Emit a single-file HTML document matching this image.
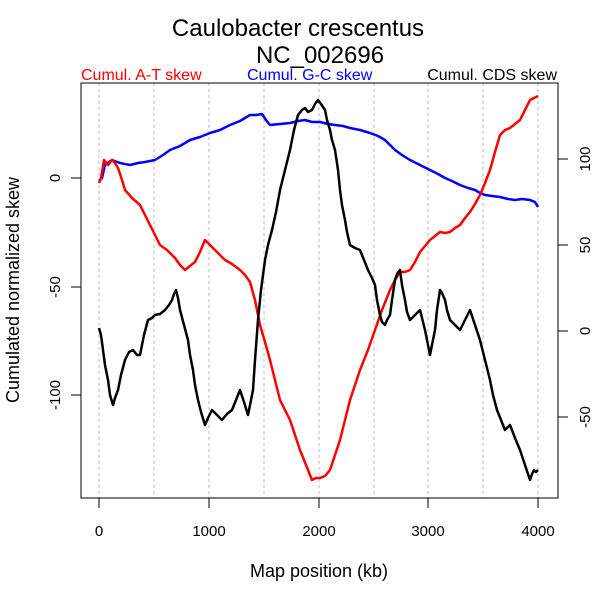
<!DOCTYPE html>
<html><head><style>body{margin:0;background:#fff}svg{display:block}</style></head><body>
<svg width="600" height="600" xmlns="http://www.w3.org/2000/svg" font-family="Liberation Sans, sans-serif">
<rect width="600" height="600" fill="#fff"/>
<text x="298" y="36" font-size="24" text-anchor="middle">Caulobacter crescentus</text>
<text x="320" y="63" font-size="24" text-anchor="middle">NC_002696</text>
<text x="81" y="80" font-size="16" fill="#f00">Cumul. A-T skew</text>
<text x="247" y="80" font-size="16" fill="#00f">Cumul. G-C skew</text>
<text x="557" y="80" font-size="16" text-anchor="end">Cumul. CDS skew</text>
<g stroke="#bbb" stroke-dasharray="3,3" stroke-width="1">
<line x1="99" y1="83" x2="99" y2="498"/><line x1="154" y1="83" x2="154" y2="498"/><line x1="209" y1="83" x2="209" y2="498"/><line x1="264" y1="83" x2="264" y2="498"/><line x1="319" y1="83" x2="319" y2="498"/><line x1="374" y1="83" x2="374" y2="498"/><line x1="428" y1="83" x2="428" y2="498"/><line x1="483" y1="83" x2="483" y2="498"/><line x1="538" y1="83" x2="538" y2="498"/>
</g>
<rect x="81" y="83" width="477" height="415" fill="none" stroke="#000"/>
<g stroke="#000">
<line x1="99" y1="498" x2="99" y2="508"/><line x1="209" y1="498" x2="209" y2="508"/><line x1="319" y1="498" x2="319" y2="508"/><line x1="428" y1="498" x2="428" y2="508"/><line x1="538" y1="498" x2="538" y2="508"/>
<line x1="71" y1="178" x2="81" y2="178"/><line x1="71" y1="287" x2="81" y2="287"/><line x1="71" y1="395" x2="81" y2="395"/>
<line x1="558" y1="159" x2="568" y2="159"/><line x1="558" y1="245" x2="568" y2="245"/><line x1="558" y1="331" x2="568" y2="331"/><line x1="558" y1="417" x2="568" y2="417"/>
</g>
<g font-size="15" text-anchor="middle">
<text x="99" y="536">0</text><text x="209" y="536">1000</text><text x="319" y="536">2000</text><text x="428" y="536">3000</text><text x="538" y="536">4000</text>
<text transform="translate(60,178) rotate(-90)">0</text>
<text transform="translate(60,287) rotate(-90)">-50</text>
<text transform="translate(60,395) rotate(-90)">-100</text>
<text transform="translate(590,159) rotate(-90)">100</text>
<text transform="translate(590,245) rotate(-90)">50</text>
<text transform="translate(590,331) rotate(-90)">0</text>
<text transform="translate(590,417) rotate(-90)">-50</text>
</g>
<text x="319" y="577" font-size="18" text-anchor="middle">Map position (kb)</text>
<text transform="translate(19,290) rotate(-90)" font-size="18" text-anchor="middle">Cumulated normalized skew</text>
<g fill="none" stroke-width="2.5" stroke-linejoin="round">
<polyline stroke="#00f" points="99,181 102,178 105,165 109,162 112,160 120,163 130,165 138,163 145,162 155,160 163,155 170,150 180,146 190,140 200,137 210,133 220,130 230,125 240,121 250,115 256,115 262,114 266,120 270,125 280,124 290,123 298,121 305,120 312,122 320,122 328,124 335,125 343,126 350,128 360,130 370,133 378,136 385,140 390,145 395,150 402,155 410,160 420,165 430,170 438,174 445,178 452,181 460,185 468,188 475,190 480,193 485,195 492,196 500,197 508,199 515,200 522,199 530,200 535,202 538,207"/>
<polyline stroke="#f00" points="99,183 101,178 104,160 108,165 112,160 115,163 118,168 122,180 125,190 132,198 140,205 145,215 150,225 155,235 160,245 167,250 175,258 180,265 185,270 190,266 195,262 200,252 205,240 210,245 215,250 220,255 225,260 232,264 240,270 245,275 250,282 255,300 260,325 265,342 270,360 275,380 280,400 285,410 290,420 295,435 300,450 306,465 312,480 316,478 320,478 325,476 330,470 335,455 340,440 345,420 350,400 355,385 360,370 368,350 375,330 382,310 390,290 395,280 400,272 405,272 410,270 415,262 420,252 425,246 430,240 435,236 440,232 445,233 450,232 455,228 460,225 465,218 470,212 475,204 480,195 485,183 490,170 495,152 500,135 505,130 510,128 515,124 520,120 525,110 530,100 534,98 538,96"/>
<polyline stroke="#000" points="99,328 101,335 103,350 105,365 108,380 110,395 113,405 115,398 118,390 121,375 125,360 129,352 133,350 137,355 140,355 144,335 148,320 152,318 155,315 160,314 165,310 169,305 172,300 174,294 176,290 178,298 180,310 184,325 188,340 190,355 193,370 195,385 198,400 201,412 205,425 208,418 212,410 217,415 222,420 227,414 232,410 236,400 240,390 244,402 248,415 250,405 253,390 255,360 258,320 261,290 265,260 268,245 272,230 276,212 280,190 285,170 290,150 294,130 298,115 302,110 305,108 308,112 312,110 315,104 318,100 321,104 325,110 327,120 330,130 332,140 335,150 338,170 340,190 342,205 345,220 347,232 350,245 355,248 360,250 364,260 368,270 372,278 375,285 377,300 380,315 382,322 385,325 387,320 390,315 392,300 395,280 397,274 400,270 402,285 405,300 407,312 410,320 415,315 420,310 425,330 430,355 432,345 435,330 437,310 440,290 442,293 445,300 447,310 450,320 455,325 460,330 465,320 470,310 475,325 480,340 485,360 490,380 493,395 497,410 501,420 505,430 507,428 510,425 515,438 520,450 525,465 530,480 532,474 534,470 536,472 538,470"/>
</g>
</svg>
</body></html>
